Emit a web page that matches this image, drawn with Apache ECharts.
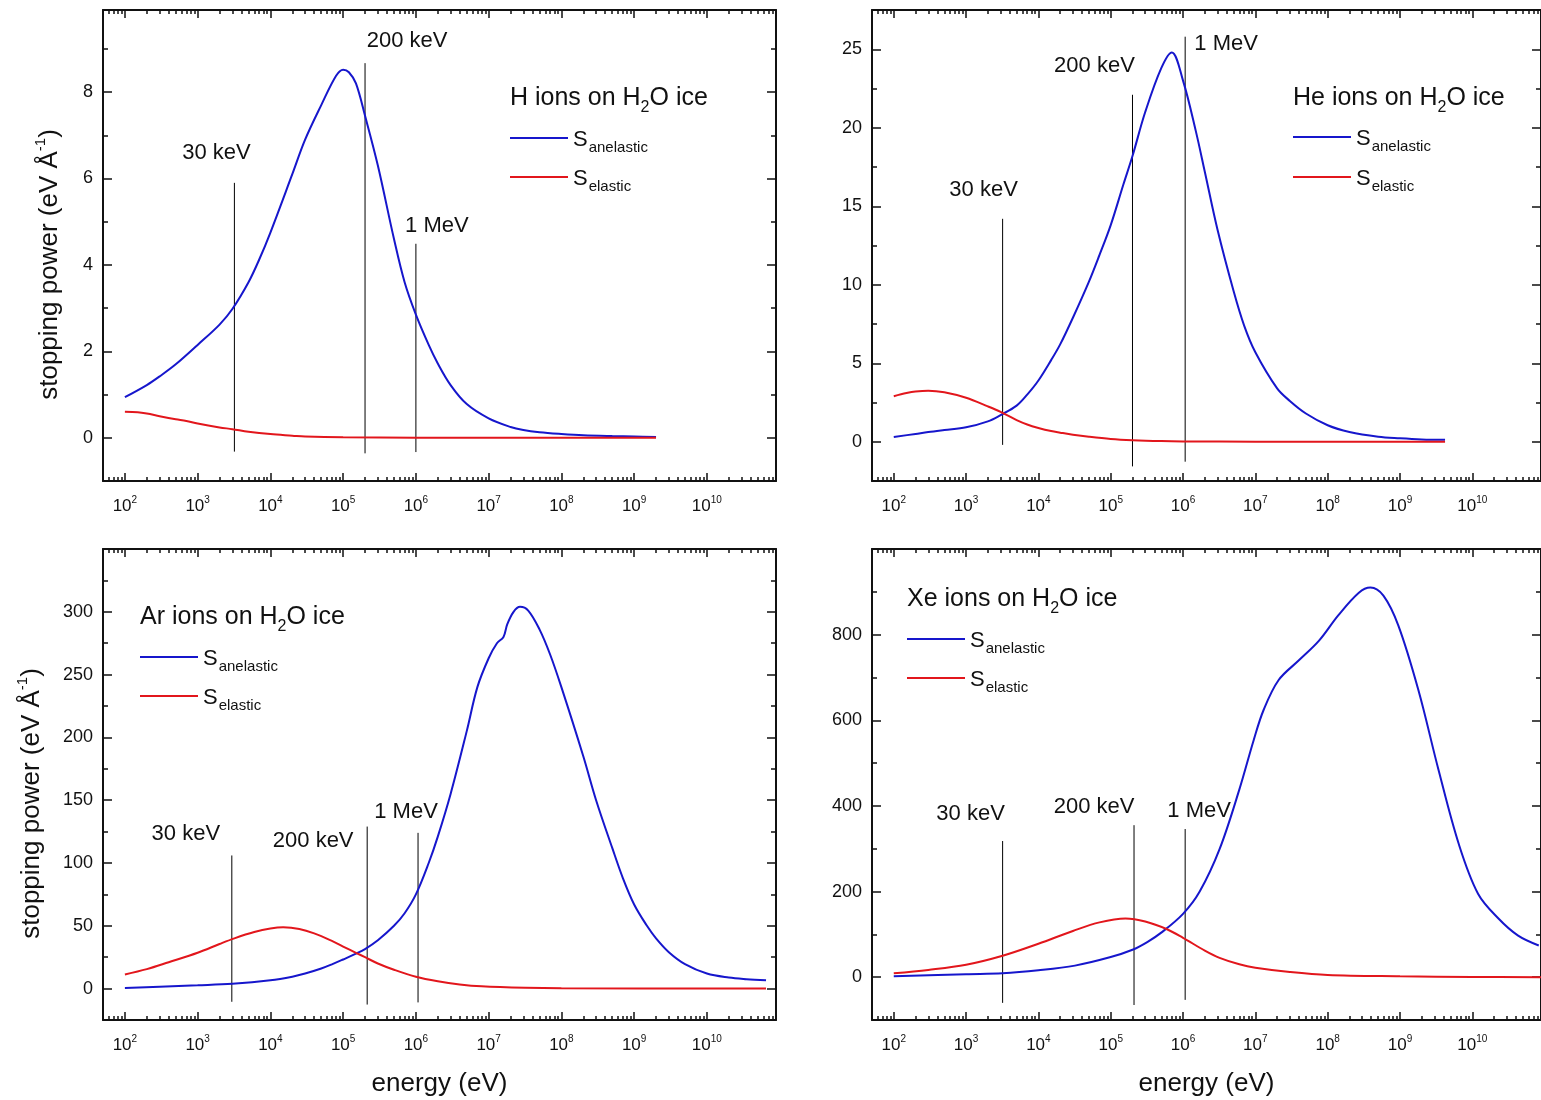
<!DOCTYPE html>
<html>
<head>
<meta charset="utf-8">
<script src="https://cdn.jsdelivr.net/npm/echarts@6/dist/echarts.min.js"></script>
<style>
  html, body { margin: 0; padding: 0; background: #fff; overflow: hidden; }
  #chart { width: 1541px; height: 1100px; }
</style>
</head>
<body>
<div id="chart"></div>
<script>
// ---- values (energy in eV, stopping power in eV/Å) ----

// H ions
const hAnelE = [100, 200, 300, 500, 1000, 2000, 3000, 5000, 7000, 1e4, 2e4, 3e4, 5e4, 8e4, 1e5, 1.2e5, 1.5e5, 2e5, 3e5, 5e5, 7e5, 1e6, 1.5e6, 2e6, 3e6, 5e6, 1e7, 2e7, 3e7, 5e7, 1e8, 2e8, 5e8, 1e9, 2e9];
const hAnel = [0.94, 1.22, 1.42, 1.7, 2.15, 2.62, 2.98, 3.6, 4.12, 4.75, 6.1, 6.9, 7.7, 8.38, 8.52, 8.46, 8.2, 7.45, 6.3, 4.6, 3.6, 2.85, 2.15, 1.72, 1.22, 0.78, 0.45, 0.25, 0.18, 0.13, 0.09, 0.06, 0.04, 0.03, 0.02];
const hElE = [100, 150, 200, 300, 500, 700, 1000, 2000, 3000, 5000, 1e4, 2e4, 3e4, 1e5, 1e6, 1e7, 2e9];
const hEl = [0.6, 0.59, 0.56, 0.5, 0.43, 0.39, 0.33, 0.24, 0.2, 0.14, 0.085, 0.05, 0.03, 0.01, 0.003, 0.001, 0];

// He ions
const heAnelE = [100, 200, 300, 500, 1000, 2000, 3000, 5000, 7000, 1e4, 1.5e4, 2e4, 3e4, 5e4, 7e4, 1e5, 1.5e5, 2e5, 3e5, 5e5, 7e5, 1e6, 1.5e6, 2e6, 3e6, 5e6, 7e6, 1e7, 2e7, 3e7, 5e7, 1e8, 2e8, 5e8, 1e9, 2e9, 4.2e9];
const heAnel = [0.3, 0.5, 0.62, 0.75, 0.92, 1.3, 1.7, 2.3, 3.0, 3.9, 5.2, 6.2, 7.9, 10.2, 11.9, 13.8, 16.4, 18.2, 21.0, 23.8, 24.8, 23.0, 19.8, 17.2, 13.5, 9.6, 7.4, 5.7, 3.4, 2.6, 1.8, 1.05, 0.62, 0.32, 0.22, 0.15, 0.12];
const heElE = [100, 150, 200, 300, 500, 1000, 2000, 3000, 5000, 7000, 1e4, 1.5e4, 2e4, 3e4, 5e4, 1e5, 2e5, 5e5, 1e6, 1e7, 4.2e9];
const heEl = [2.9, 3.1, 3.2, 3.25, 3.15, 2.8, 2.25, 1.9, 1.38, 1.1, 0.88, 0.68, 0.58, 0.45, 0.32, 0.18, 0.1, 0.04, 0.02, 0.005, 0];

// Ar ions
const arAnelE = [100, 300, 1000, 3000, 1e4, 2e4, 3e4, 5e4, 7e4, 1e5, 1.5e5, 2e5, 3e5, 5e5, 7e5, 1e6, 1.5e6, 2e6, 3e6, 5e6, 7e6, 1e7, 1.3e7, 1.6e7, 1.8e7, 2.2e7, 2.7e7, 3.5e7, 5e7, 7e7, 1e8, 2e8, 3e8, 5e8, 7e8, 1e9, 1.5e9, 2e9, 3e9, 5e9, 1e10, 2e10, 3.5e10, 6.5e10];
const arAnel = [0.5, 1.5, 2.6, 3.8, 6.6, 9.5, 12, 16, 19.3, 23.2, 27.8, 31.5, 38.5, 50, 60, 75, 100, 121, 155, 205, 240, 263, 275, 280, 290, 300, 304, 301, 286, 266, 240, 185, 150, 112, 88, 67, 50, 40, 29, 19.5, 12, 8.8, 7.5, 6.6];
const arElE = [100, 200, 400, 1000, 2000, 3200, 6000, 1e4, 1.5e4, 2.5e4, 4e4, 7e4, 1e5, 1.5e5, 2e5, 3e5, 5e5, 1e6, 2e6, 4e6, 8e6, 3.2e7, 1e8, 6.5e10];
const arEl = [11.3, 15.5, 21, 28.5, 35.5, 40, 45, 47.8, 48.8, 47.5, 44, 38, 33.5, 28.5, 25, 20, 15, 9.4, 5.8, 3.3, 1.8, 0.6, 0.2, 0];

// Xe ions
const xeAnelE = [100, 1000, 3200, 1e4, 3.2e4, 1e5, 2e5, 3.2e5, 5e5, 1e6, 1.7e6, 3.2e6, 6e6, 9.5e6, 1.3e7, 2.1e7, 4e7, 7.6e7, 1.4e8, 2.7e8, 3.9e8, 5.9e8, 9.5e8, 1.8e9, 3.4e9, 6.5e9, 1.2e10, 2.3e10, 4.3e10, 8.3e10];
const xeAnel = [2, 7, 9, 16, 27, 47, 64, 82, 104, 148, 200, 299, 438, 554, 624, 694, 740, 786, 845, 898, 910, 891, 821, 670, 485, 311, 195, 137, 97, 74];
const xeElE = [100, 300, 1000, 3200, 1e4, 3e4, 7e4, 1.6e5, 3e5, 6e5, 1e6, 2e6, 3.2e6, 6e6, 1e7, 3e7, 1e8, 1e9, 1e10, 8.9e10];
const xeEl = [9, 17, 29, 50, 78, 108, 128, 137, 130, 112, 92, 62, 45, 30, 22, 12, 5, 2, 0.5, 0];

// marker lines (energy, top, bottom) and their labels
const markLabels = ['30 keV', '200 keV', '1 MeV'];
const hMarkE = [3200, 2e5, 1e6];
const hMarkTop = [5.9, 8.67, 4.49];
const hMarkBottom = [-0.32, -0.36, -0.33];
const heMarkE = [3200, 2e5, 1.07e6];
const heMarkTop = [14.2, 22.1, 25.8];
const heMarkBottom = [-0.2, -1.57, -1.27];
const arMarkE = [2950, 2.14e5, 1.07e6];
const arMarkTop = [106, 129, 124];
const arMarkBottom = [-10.5, -12.7, -11];
const xeMarkE = [3200, 2.1e5, 1.07e6];
const xeMarkTop = [318, 355, 346];
const xeMarkBottom = [-60, -65, -53];

// tick values
const xDecades = [2, 3, 4, 5, 6, 7, 8, 9, 10];
const xMantissas = [2, 3, 4, 5, 6, 7, 8, 9];
const hYMajor = [0, 2, 4, 6, 8];
const hYMinor = [-1, 1, 3, 5, 7, 9];
const heYMajor = [0, 5, 10, 15, 20, 25];
const heYMinor = [-2.5, 2.5, 7.5, 12.5, 17.5, 22.5, 27.5];
const arYMajor = [0, 50, 100, 150, 200, 250, 300];
const arYMinor = [-25, 25, 75, 125, 175, 225, 275, 325];
const xeYMajor = [0, 200, 400, 600, 800];
const xeYMinor = [-100, 100, 300, 500, 700, 900];

// ---- layout / style ----
const FONT = '"Liberation Sans", Arial, sans-serif';
const INK = '#111';
const BLUE = '#1616cc';
const RED = '#e2161c';
const xMin = Math.log10(50);
const xMax = 10.95;

const minorX = [];
for (let n = 1; n <= 10; n++) {
  xMantissas.forEach(m => {
    const v = n + Math.log10(m);
    if (v > xMin && v < xMax) minorX.push(v);
  });
}

const panels = [
  {
    ion: 'H', grid: { left: 103, top: 10, width: 673, height: 471 },
    yMin: -1, yMax: 9.9, yMajor: hYMajor, yMinor: hYMinor,
    anel: [hAnelE, hAnel], el: [hElE, hEl],
    mark: [hMarkE, hMarkTop, hMarkBottom],
    labelOffset: [[-18, -30], [42, -22], [21, -18]],
    titleAt: [510, 98.5], legendAt: [510, 138, 177],
    yName: true, yNameGap: 40, xName: false
  },
  {
    ion: 'He', grid: { left: 872, top: 10, width: 672, height: 471 },
    yMin: -2.5, yMax: 27.5, yMajor: heYMajor, yMinor: heYMinor,
    anel: [heAnelE, heAnel], el: [heElE, heEl],
    mark: [heMarkE, heMarkTop, heMarkBottom],
    labelOffset: [[-19, -29], [-38, -29], [41, 7]],
    titleAt: [1293, 98.5], legendAt: [1293, 137, 177],
    yName: false, xName: false
  },
  {
    ion: 'Ar', grid: { left: 103, top: 549, width: 673, height: 472 },
    yMin: -25, yMax: 350, yMajor: arYMajor, yMinor: arYMinor,
    anel: [arAnelE, arAnel], el: [arElE, arEl],
    mark: [arMarkE, arMarkTop, arMarkBottom],
    labelOffset: [[-46, -22], [-54, 14], [-12, -21]],
    titleAt: [140, 618], legendAt: [140, 657, 696],
    yName: true, yNameGap: 58, xName: true
  },
  {
    ion: 'Xe', grid: { left: 872, top: 549, width: 672, height: 472 },
    yMin: -100, yMax: 1000, yMajor: xeYMajor, yMinor: xeYMinor,
    anel: [xeAnelE, xeAnel], el: [xeElE, xeEl],
    mark: [xeMarkE, xeMarkTop, xeMarkBottom],
    labelOffset: [[-32, -27], [-40, -18], [14, -18]],
    titleAt: [907, 600], legendAt: [907, 639, 678],
    yName: false, xName: true
  }
];

const frameLine = { show: true, onZero: false, lineStyle: { color: '#111', width: 2 } };
const tickLine = { color: '#111', width: 1.5 };

function toXY(es, vs) {
  return es.map((e, i) => [Math.log10(e), vs[i]]);
}

const xAxes = [], yAxes = [], series = [], graphics = [];

panels.forEach((p, i) => {
  const xBase = {
    type: 'value', gridIndex: i, min: xMin, max: xMax,
    splitLine: { show: false }, axisLabel: { show: false },
    axisLine: { show: false, onZero: false }
  };
  xAxes.push(Object.assign({}, xBase, {
    position: 'bottom', axisLine: frameLine,
    axisTick: { inside: true, length: 8, customValues: xDecades, lineStyle: tickLine },
    axisLabel: {
      show: true, customValues: xDecades, margin: 14,
      formatter: v => '{b|10}{s|' + v + '}',
      rich: {
        b: { fontFamily: FONT, fontSize: 17, color: INK, lineHeight: 20, verticalAlign: 'bottom' },
        s: { fontFamily: FONT, fontSize: 10, color: INK, lineHeight: 11, verticalAlign: 'top' }
      }
    },
    name: p.xName ? 'energy (eV)' : '', nameLocation: 'middle', nameGap: 49,
    nameTextStyle: { fontFamily: FONT, fontSize: 26, color: INK, lineHeight: 30 }
  }));
  xAxes.push(Object.assign({}, xBase, {
    position: 'bottom',
    axisTick: { inside: true, length: 4, customValues: minorX, lineStyle: tickLine }
  }));
  xAxes.push(Object.assign({}, xBase, {
    position: 'top', axisLine: frameLine,
    axisTick: { inside: true, length: 8, customValues: xDecades, lineStyle: tickLine }
  }));
  xAxes.push(Object.assign({}, xBase, {
    position: 'top',
    axisTick: { inside: true, length: 4, customValues: minorX, lineStyle: tickLine }
  }));

  const yBase = {
    type: 'value', gridIndex: i, min: p.yMin, max: p.yMax,
    splitLine: { show: false }, axisLabel: { show: false },
    axisLine: { show: false, onZero: false }
  };
  yAxes.push(Object.assign({}, yBase, {
    position: 'left', axisLine: frameLine,
    axisTick: { inside: true, length: 9, customValues: p.yMajor, lineStyle: tickLine },
    axisLabel: {
      show: true, customValues: p.yMajor, margin: 10,
      fontFamily: FONT, fontSize: 18, color: INK
    },
    name: p.yName ? '{n|stopping power (eV Å}{s|-1}{n|)}' : '',
    nameLocation: 'middle', nameGap: p.yNameGap || 40,
    nameTextStyle: {
      padding: [0, 38, 0, 0],
      rich: {
        n: { fontFamily: FONT, fontSize: 26, color: INK, lineHeight: 30, verticalAlign: 'bottom' },
        s: { fontFamily: FONT, fontSize: 15, color: INK, lineHeight: 15, verticalAlign: 'top' }
      }
    }
  }));
  yAxes.push(Object.assign({}, yBase, {
    position: 'left',
    axisTick: { inside: true, length: 5, customValues: p.yMinor, lineStyle: tickLine }
  }));
  yAxes.push(Object.assign({}, yBase, {
    position: 'right', axisLine: frameLine,
    axisTick: { inside: true, length: 9, customValues: p.yMajor, lineStyle: tickLine }
  }));
  yAxes.push(Object.assign({}, yBase, {
    position: 'right',
    axisTick: { inside: true, length: 5, customValues: p.yMinor, lineStyle: tickLine }
  }));

  const ax = { xAxisIndex: 4 * i, yAxisIndex: 4 * i };

  // marker lines
  p.mark[0].forEach((e, k) => {
    series.push(Object.assign({
      type: 'line', silent: true, showSymbol: false, z: 1,
      data: [[Math.log10(e), p.mark[2][k]], [Math.log10(e), p.mark[1][k]]],
      lineStyle: { color: '#000', width: 1 }
    }, ax));
  });
  // marker labels
  series.push(Object.assign({
    type: 'scatter', silent: true, symbolSize: 1, z: 4,
    itemStyle: { color: 'rgba(0,0,0,0)', opacity: 1 },
    data: p.mark[0].map((e, k) => ({
      name: markLabels[k],
      value: [Math.log10(e), p.mark[1][k]],
      label: { offset: p.labelOffset[k] }
    })),
    label: {
      show: true, position: 'inside', formatter: '{b}', opacity: 1,
      fontFamily: FONT, fontSize: 22, color: INK
    }
  }, ax));

  series.push(Object.assign({
    name: 'anelastic', type: 'line', showSymbol: false, smooth: 0.35, z: 3,
    data: toXY(p.anel[0], p.anel[1]),
    lineStyle: { color: BLUE, width: 2 }, itemStyle: { color: BLUE }
  }, ax));
  series.push(Object.assign({
    name: 'elastic', type: 'line', showSymbol: false, smooth: 0.35, z: 3,
    data: toXY(p.el[0], p.el[1]),
    lineStyle: { color: RED, width: 2 }, itemStyle: { color: RED }
  }, ax));

  // title with subscript
  graphics.push({
    type: 'text', x: p.titleAt[0], y: p.titleAt[1] - 13,
    style: {
      text: '{t|' + p.ion + ' ions on H}{s|2}{t|O ice}',
      align: 'left', verticalAlign: 'top',
      rich: {
        t: { fontFamily: FONT, fontSize: 25, fill: INK, lineHeight: 26, verticalAlign: 'top' },
        s: { fontFamily: FONT, fontSize: 16, fill: INK, lineHeight: 16, padding: [18, 0, 0, 0] }
      }
    }
  });
  // legend
  [['anelastic', BLUE, p.legendAt[1]], ['elastic', RED, p.legendAt[2]]].forEach(([nm, col, ly]) => {
    graphics.push({
      type: 'line',
      shape: { x1: p.legendAt[0], y1: ly, x2: p.legendAt[0] + 58, y2: ly },
      style: { stroke: col, lineWidth: 2 }
    });
    graphics.push({
      type: 'text', x: p.legendAt[0] + 63, y: ly + 2.5 - 11.5,
      style: {
        text: '{S|S}{s|' + nm + '}',
        align: 'left', verticalAlign: 'top',
        rich: {
          S: { fontFamily: FONT, fontSize: 22, fill: INK, lineHeight: 23, verticalAlign: 'top' },
          s: { fontFamily: FONT, fontSize: 15, fill: INK, lineHeight: 15, padding: [15, 0, 0, 1] }
        }
      }
    });
  });
});

const chart = echarts.init(document.getElementById('chart'), null, { renderer: 'canvas' });
chart.setOption({
  animation: false,
  backgroundColor: '#fff',
  grid: panels.map(p => p.grid),
  xAxis: xAxes,
  yAxis: yAxes,
  series: series,
  graphic: graphics
});
</script>
</body>
</html>
